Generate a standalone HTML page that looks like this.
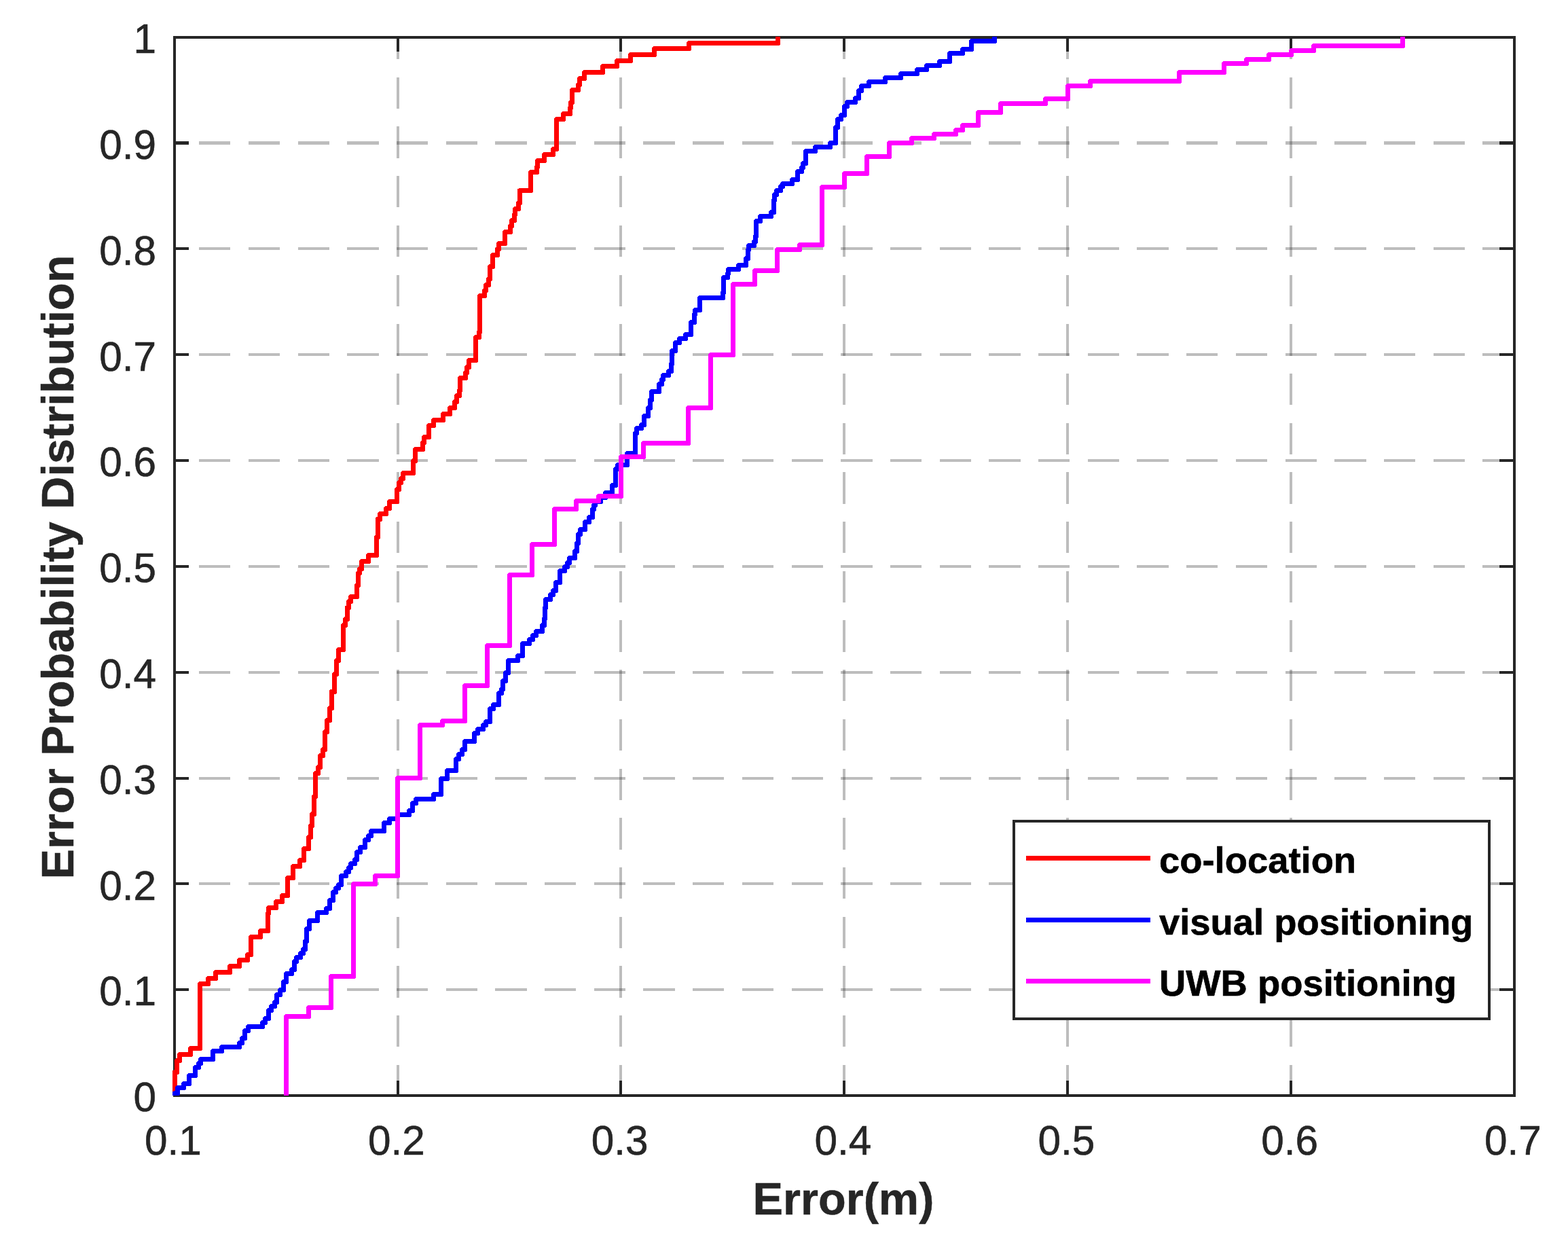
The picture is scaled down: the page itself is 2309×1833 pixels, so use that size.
<!DOCTYPE html>
<html lang="en"><head><meta charset="utf-8"><title>Error Probability Distribution</title>
<style>html,body{margin:0;padding:0;background:#fff}body{width:2309px;height:1833px;overflow:hidden}svg{display:block}text{font-family:"Liberation Sans",sans-serif}.t{font-size:60.3px;fill:#262626;stroke:#262626;stroke-width:.6px}.b{font-weight:bold;font-size:66.7px;fill:#262626;stroke:#262626;stroke-width:.5px}.l{font-weight:bold;font-size:54.4px;fill:#000;stroke:#000;stroke-width:.6px}</style>
</head><body>
<svg width="2309" height="1833" viewBox="0 0 2309 1833">
<rect width="2309" height="1833" fill="#fff"/>
<g stroke="#262626" stroke-opacity="0.3" stroke-width="4" stroke-dasharray="46.3 26.4" fill="none" shape-rendering="crispEdges">
<path d="M586 1614V55"/>
<path d="M914 1614V55"/>
<path d="M1243 1614V55"/>
<path d="M1572 1614V55"/>
<path d="M1901 1614V55"/>
<path d="M2229.6 1457H257"/>
<path d="M2229.6 1301H257"/>
<path d="M2229.6 1146H257"/>
<path d="M2229.6 990H257"/>
<path d="M2229.6 834H257"/>
<path d="M2229.6 678H257"/>
<path d="M2229.6 522H257"/>
<path d="M2229.6 366H257"/>
<path d="M2229.6 210.5H257" stroke-width="5"/>
</g>
<g stroke="#262626" stroke-width="4" fill="none" shape-rendering="crispEdges">
<rect x="257" y="55" width="1973" height="1558"/>
<path d="M586 1613V1591M586 55V76M914 1613V1591M914 55V76M1243 1613V1591M1243 55V76M1572 1613V1591M1572 55V76M1901 1613V1591M1901 55V76M257 1457H278M2230 1457H2208M257 1301H278M2230 1301H2208M257 1146H278M2230 1146H2208M257 990H278M2230 990H2208M257 834H278M2230 834H2208M257 678H278M2230 678H2208M257 522H278M2230 522H2208M257 366H278M2230 366H2208"/>
<path stroke-width="5" d="M257 210.5H278M2230 210.5H2208"/>
</g>
<g fill="none" stroke-width="7" stroke-linejoin="round" shape-rendering="crispEdges">
<path stroke="#ff0000" d="M257.5 1613V1578.5H260.5V1561.5H264.5V1552.5H280.5V1543.5H294.5V1448.5H306.5V1440.5H317.5V1431.5H338.5V1422.5H352.5V1413.5H364.5V1405.5H369.5V1379.5H383.5V1370.5H394.5V1344.5H395.5V1336.5H406.5V1327.5H415.5V1318.5H423.5V1292.5H431.5V1275.5H441.5V1266.5H447.5V1249.5H454.5V1232.5H457.5V1215.5H459.5V1198.5H462.5V1172.5H464.5V1138.5H468.5V1129.5H471.5V1112.5H475.5V1103.5H478.5V1077.5H481.5V1060.5H485.5V1042.5H488.5V1018.5H492.5V992.5H495.5V972.5H498.5V956.5H505.5V920.5H508.5V911.5H511.5V894.5H513.5V885.5H516.5V878.5H525.5V861.5H527.5V843.5H529.5V837.5H532.5V826.5H542.5V817.5H554.5V790.5H556.5V764.5H559.5V756.5H568.5V748.5H573.5V738.5H584.5V720.5H587.5V710.5H590.5V704.5H593.5V696.5H608.5V678.5H611.5V661.5H622.5V651.5H624.5V643.5H631.5V626.5H638.5V618.5H652.5V609.5H662.5V600.5H669.5V591.5H672.5V582.5H676.5V574.5H677.5V556.5H685.5V548.5H687.5V540.5H690.5V530.5H700.5V496.5H705.5V488.5H706.5V435.5H713.5V427.5H715.5V419.5H719.5V410.5H721.5V392.5H725.5V375.5H732.5V366.5H734.5V358.5H743.5V341.5H751.5V332.5H753.5V324.5H757.5V315.5H758.5V307.5H763.5V298.5H765.5V280.5H781.5V253.5H790.5V245.5H791.5V236.5H801.5V227.5H814.5V219.5H819.5V175.5H829.5V167.5H839.5V158.5H840.5V150.5H842.5V132.5H851.5V124.5H853.5V115.5H860.5V106.5H887.5V97.5H908.5V89.5H928.5V80.5H963.5V71.5H1014.5V63.5H1145.5V54"/>
<path stroke="#0000ff" d="M257.5 1613V1609.5H261.5V1601.5H270.5V1595.5H278.5V1583.5H287.5V1571.5H292.5V1565.5H295.5V1559.5H313.5V1547.5H326.5V1541.5H352.5V1535.5H356.5V1528.5H360.5V1517.5H365.5V1511.5H386.5V1505.5H390.5V1499.5H395.5V1487.5H399.5V1481.5H404.5V1475.5H407.5V1464.5H412.5V1457.5H417.5V1445.5H421.5V1433.5H429.5V1427.5H433.5V1415.5H436.5V1409.5H442.5V1403.5H446.5V1397.5H449.5V1385.5H451.5V1367.5H455.5V1355.5H467.5V1343.5H480.5V1337.5H485.5V1325.5H490.5V1313.5H494.5V1307.5H498.5V1302.5H502.5V1289.5H509.5V1283.5H513.5V1277.5H516.5V1271.5H522.5V1265.5H525.5V1254.5H530.5V1247.5H537.5V1236.5H542.5V1230.5H546.5V1223.5H565.5V1211.5H573.5V1205.5H585.5V1199.5H602.5V1193.5H607.5V1182.5H612.5V1176.5H638.5V1169.5H649.5V1146.5H658.5V1134.5H671.5V1117.5H675.5V1110.5H680.5V1103.5H684.5V1091.5H698.5V1079.5H703.5V1073.5H711.5V1067.5H715.5V1062.5H721.5V1043.5H726.5V1037.5H734.5V1020.5H738.5V1014.5H740.5V1002.5H744.5V990.5H748.5V972.5H762.5V965.5H769.5V947.5H779.5V941.5H784.5V935.5H789.5V929.5H798.5V920.5H801.5V910.5H802.5V894.5H803.5V882.5H810.5V875.5H814.5V869.5H818.5V857.5H824.5V840.5H831.5V834.5H835.5V828.5H838.5V821.5H846.5V811.5H849.5V799.5H851.5V786.5H854.5V779.5H861.5V768.5H867.5V761.5H872.5V749.5H874.5V743.5H876.5V738.5H884.5V732.5H891.5V725.5H901.5V714.5H906.5V690.5H909.5V684.5H923.5V667.5H935.5V637.5H937.5V630.5H944.5V625.5H948.5V612.5H954.5V600.5H957.5V588.5H959.5V576.5H970.5V565.5H974.5V558.5H976.5V552.5H984.5V546.5H988.5V535.5H989.5V516.5H994.5V504.5H1000.5V498.5H1009.5V492.5H1017.5V474.5H1022.5V462.5H1023.5V456.5H1030.5V438.5H1064.5V430.5H1065.5V408.5H1071.5V402.5H1072.5V396.5H1087.5V390.5H1098.5V380.5H1101.5V367.5H1102.5V361.5H1110.5V355.5H1112.5V347.5H1113.5V325.5H1119.5V318.5H1135.5V312.5H1139.5V294.5H1140.5V286.5H1143.5V280.5H1149.5V274.5H1152.5V270.5H1166.5V264.5H1174.5V252.5H1180.5V246.5H1182.5V240.5H1186.5V222.5H1200.5V216.5H1222.5V210.5H1230.5V187.5H1233.5V175.5H1238.5V169.5H1243.5V156.5H1247.5V150.5H1259.5V144.5H1264.5V133.5H1268.5V126.5H1279.5V120.5H1303.5V114.5H1326.5V108.5H1350.5V102.5H1364.5V96.5H1383.5V90.5H1398.5V78.5H1417.5V72.5H1430.5V60.5H1464.5V54"/>
<path stroke="#ff00ff" d="M421.5 1613V1496.5H454.5V1483.5H487.5V1437.5H520.5V1301.5H552.5V1289.5H585.5V1145.5H618.5V1067.5H651.5V1061.5H684.5V1009.5H717.5V950.5H750.5V846.5H783.5V801.5H816.5V749.5H848.5V737.5H881.5V730.5H914.5V672.5H947.5V652.5H1013.5V600.5H1046.5V522.5H1079.5V418.5H1111.5V398.5H1144.5V367.5H1177.5V360.5H1210.5V275.5H1243.5V255.5H1276.5V230.5H1309.5V210.5H1342.5V203.5H1375.5V197.5H1407.5V191.5H1417.5V184.5H1440.5V165.5H1473.5V152.5H1539.5V145.5H1572.5V126.5H1605.5V119.5H1736.5V106.5H1802.5V93.5H1835.5V87.5H1868.5V80.5H1901.5V74.5H1934.5V67.5H2065.5V54"/>
</g>
<g class="t" text-anchor="middle">
<text x="255" y="1700">0.1</text>
<text x="583.8" y="1700">0.2</text>
<text x="912.7" y="1700">0.3</text>
<text x="1241.5" y="1700">0.4</text>
<text x="1570.3" y="1700">0.5</text>
<text x="1899.2" y="1700">0.6</text>
<text x="2228" y="1700">0.7</text>
</g>
<g class="t" text-anchor="end">
<text x="230" y="1636.2">0</text>
<text x="230" y="1480.4">0.1</text>
<text x="230" y="1324.6">0.2</text>
<text x="230" y="1168.8">0.3</text>
<text x="230" y="1013">0.4</text>
<text x="230" y="857.2">0.5</text>
<text x="230" y="701.4">0.6</text>
<text x="230" y="545.6">0.7</text>
<text x="230" y="389.8">0.8</text>
<text x="230" y="234">0.9</text>
<text x="230" y="78.2">1</text>
</g>
<text class="b" text-anchor="middle" x="1242" y="1788">Error(m)</text>
<text class="b" text-anchor="middle" transform="translate(108 835) rotate(-90)">Error Probability Distribution</text>
<rect x="1493" y="1209" width="700" height="291" fill="#fff" stroke="#262626" stroke-width="4" shape-rendering="crispEdges"/>
<g fill="none" stroke-width="7" shape-rendering="crispEdges">
<path stroke="#ff0000" d="M1511 1263.5H1694"/>
<path stroke="#0000ff" d="M1511 1354.5H1694"/>
<path stroke="#ff00ff" d="M1511 1444.5H1694"/>
</g>
<g class="l">
<text x="1707" y="1285.3">co-location</text>
<text x="1707" y="1376">visual positioning</text>
<text x="1707" y="1466.3">UWB positioning</text>
</g>
</svg></body></html>
